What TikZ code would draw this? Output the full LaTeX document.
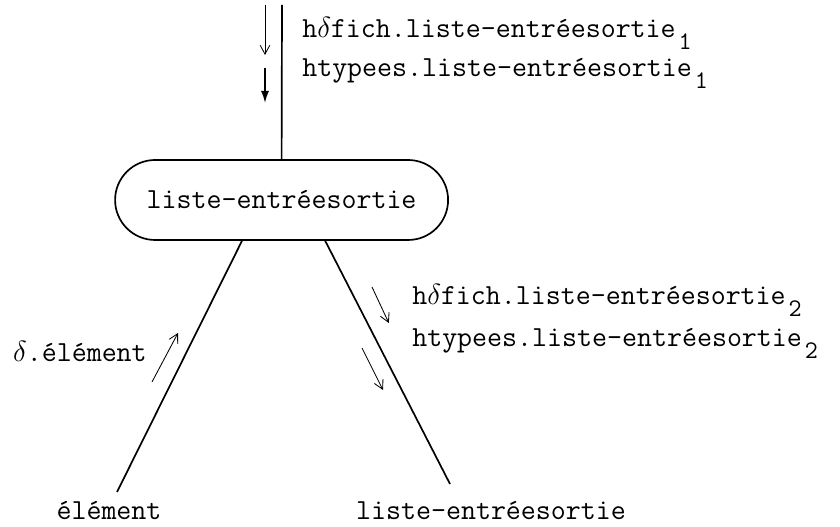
\documentclass[tikz,border=0pt]{standalone}
\usepackage{fontspec}
\usetikzlibrary{arrows.meta,positioning}
\newcommand{\lowidx}[1]{\kern2pt\raisebox{-8pt}{\fontsize{18}{18}\selectfont #1}}
\newcommand{\dlt}{\(\delta\)}
\tikzset{
  lbl/.style={inner sep=0pt,font=\ttfamily\fontsize{20.7}{24}\selectfont},
  leg/.style={line width=1.2pt},
  hint/.style={-{Straight Barb[length=2.2mm,width=2.4mm]},line width=0.6pt},
}
\begin{document}
\begin{tikzpicture}[x=1cm,y=1cm]
\useasboundingbox (0,0) rectangle (21,13.175);

\node[draw,leg,lbl,rounded corners=1cm,minimum width=8.325cm,minimum height=2cm] (lst) at (7.04,8.175) {liste-entréesortie};
\coordinate (top) at (7.05,13.05);
\draw[leg] (lst.north) -- (top);

\node[lbl,anchor=base west] (fich1) at (7.55,12.225) {h\dlt fich.liste-entréesortie\lowidx{1}};
\node[lbl,anchor=base west] (typ1) at (7.55,11.25) {htypees.liste-entréesortie\lowidx{1}};
\draw[hint] (6.625,13.05) -- (6.625,11.8);
\draw[-{Latex[length=3mm,width=2mm]},line width=1.2pt] (6.625,11.475) -- (6.625,10.6);

\coordinate (lfoot) at (2.925,0.875);
\coordinate (rfoot) at (11.25,1.075);
\draw[leg] ([xshift=-0.99cm]lst.south) -- (lfoot);
\draw[leg] ([xshift=1.09cm]lst.south) -- (rfoot);

\node[lbl,anchor=base] (elem) at (2.725,0.175) {élément};
\node[lbl,anchor=base] (rest) at (12.275,0.175) {liste-entréesortie};

\node[lbl,anchor=base east] (delem) at (3.675,4.125) {\dlt.élément};
\draw[hint] (3.8,3.625) -- (4.45,4.85);

\node[lbl,anchor=base west] (fich2) at (10.3,5.55) {h\dlt fich.liste-entréesortie\lowidx{2}};
\node[lbl,anchor=base west] (typ2) at (10.3,4.5) {htypees.liste-entréesortie\lowidx{2}};
\draw[hint] (9.3,6.0) -- (9.72,5.1);
\draw[hint] (9.05,4.475) -- (9.575,3.425);
\end{tikzpicture}
\end{document}
